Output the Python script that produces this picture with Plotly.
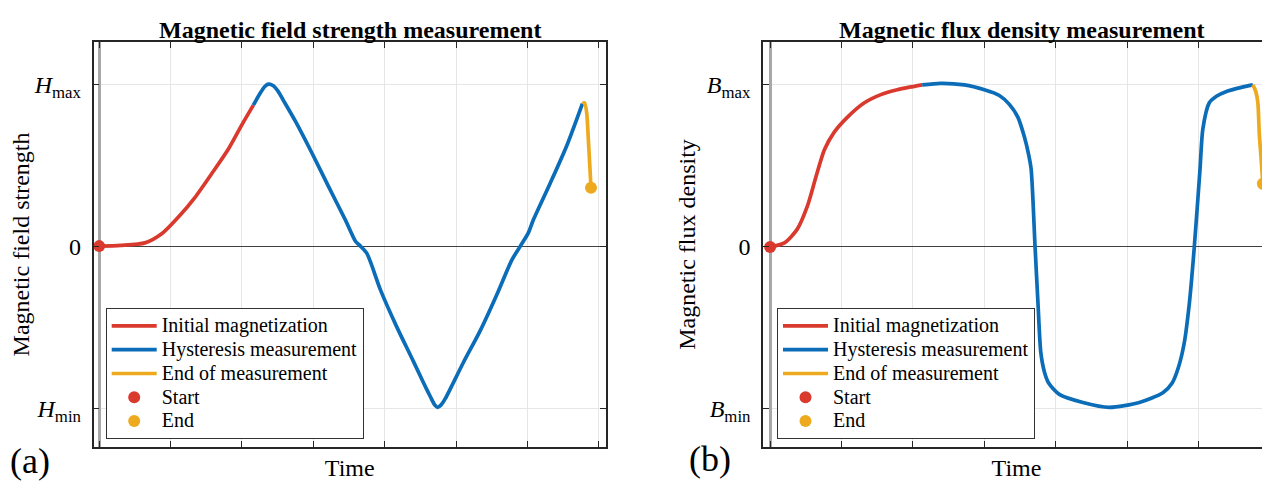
import plotly.graph_objects as go

# ---------------- data ----------------
time_ticks = [0, 1, 2, 3, 4, 5, 6, 7]

# Panel (a): magnetic field strength H (normalised: Hmin=-1, Hmax=1)
h_init_t = [0, 0.3, 0.64, 0.88, 1.11, 1.34, 1.58, 1.81, 2.0, 2.16]
h_init = [0, 0.005, 0.02, 0.078, 0.18, 0.30, 0.45, 0.60, 0.75, 0.87]

h_hyst_t = [2.16, 2.25, 2.32, 2.37, 2.44, 2.50, 2.58, 2.75, 2.98, 3.21, 3.45, 3.59,
            3.66, 3.75, 3.94, 4.17, 4.40, 4.55, 4.64, 4.70, 4.74, 4.79, 4.85, 5.10,
            5.34, 5.57, 5.78, 5.90, 6.01, 6.08, 6.32, 6.55, 6.77]
h_hyst = [0.87, 0.94, 0.985, 1.0, 0.99, 0.96, 0.90, 0.77, 0.575, 0.37, 0.16, 0.03,
          0.0, -0.045, -0.27, -0.50, -0.71, -0.85, -0.93, -0.98, -0.995, -0.98, -0.94, -0.72,
          -0.52, -0.30, -0.086, 0.0, 0.08, 0.16, 0.39, 0.62, 0.88]

h_end_t = [6.77, 6.80, 6.83, 6.85, 6.87, 6.89]
h_end = [0.88, 0.885, 0.82, 0.68, 0.52, 0.36]

# Panel (b): magnetic flux density B (normalised: Bmin=-1, Bmax=1)
b_init_t = [0, 0.2, 0.38, 0.52, 0.64, 0.76, 0.90, 1.08, 1.32, 1.55, 1.78, 2.13]
b_init = [0, 0.025, 0.11, 0.25, 0.43, 0.60, 0.71, 0.80, 0.89, 0.94, 0.97, 1.0]

b_hyst_t = [2.13, 2.39, 2.72, 3.0, 3.21, 3.35, 3.47, 3.56, 3.62, 3.655, 3.71, 3.75,
            3.79, 3.84, 3.90, 4.05, 4.38, 4.75, 5.17, 5.50, 5.63, 5.72, 5.80, 5.87,
            5.94, 6.02, 6.06, 6.15, 6.25, 6.39, 6.60, 6.76]
b_hyst = [1.0, 1.01, 1.0, 0.97, 0.935, 0.88, 0.80, 0.68, 0.57, 0.48, 0.0, -0.34,
          -0.65, -0.77, -0.84, -0.91, -0.96, -0.99, -0.96, -0.90, -0.84, -0.74, -0.59, -0.35,
          0.0, 0.48, 0.73, 0.89, 0.93, 0.96, 0.985, 1.0]

b_end_t = [6.76, 6.80, 6.83, 6.85, 6.875, 6.90]
b_end = [1.0, 0.96, 0.89, 0.70, 0.55, 0.39]

series_names = ["Initial magnetization", "Hysteresis measurement", "End of measurement"]
marker_names = ["Start", "End"]
y_tick_vals = [-1, 0, 1]
h_tick_text = ["<i>H</i><sub>min</sub>", "0", "<i>H</i><sub>max</sub>"]
b_tick_text = ["<i>B</i><sub>min</sub>", "0", "<i>B</i><sub>max</sub>"]

# ---------------- styling ----------------
RED = "#DA3A2E"
BLUE = "#0B6DB8"
YELLOW = "#EDAA1F"
FONT = "Liberation Serif"
AX = "#262626"

# the page body has an 8px margin, so the figure is 8px smaller than the window
W, H = 1262, 473


def fx(px):
    return (px - 8) / W


def fy(py):
    return 1 - (py - 8) / H


fig = go.Figure()


def legend_label(txt):
    return '<span style="font-size:20px">' + txt + "</span>"


def add_panel(xa, ya, leg, init_t, init, hyst_t, hyst, end_t, end):
    segs = [(init_t, init, RED), (hyst_t, hyst, BLUE), (end_t, end, YELLOW)]
    for (tt, vv, col), name in zip(segs, series_names):
        fig.add_trace(go.Scatter(
            x=tt, y=vv, mode="lines", name=legend_label(name), legend=leg,
            line=dict(color=col, width=3.7, shape="spline", smoothing=0.7),
            xaxis=xa, yaxis=ya))
    fig.add_trace(go.Scatter(
        x=[init_t[0]], y=[init[0]], mode="markers", name=legend_label(marker_names[0]),
        legend=leg, marker=dict(color=RED, size=12), xaxis=xa, yaxis=ya))
    fig.add_trace(go.Scatter(
        x=[end_t[-1]], y=[end[-1]], mode="markers", name=legend_label(marker_names[1]),
        legend=leg, marker=dict(color=YELLOW, size=12), xaxis=xa, yaxis=ya))


add_panel("x", "y", "legend", h_init_t, h_init, h_hyst_t, h_hyst, h_end_t, h_end)
add_panel("x2", "y2", "legend2", b_init_t, b_init, b_hyst_t, b_hyst, b_end_t, b_end)

common_x = dict(
    tickvals=time_ticks, showticklabels=False, ticks="inside", ticklen=6,
    tickcolor=AX, tickwidth=1.2, showgrid=True, gridcolor="#e6e6e6", gridwidth=1,
    zeroline=True, zerolinecolor="#a8a8a8", zerolinewidth=2.5,
    showline=True, linecolor=AX, linewidth=1.5,
    title=dict(text="Time", font=dict(family=FONT, size=24, color="black"), standoff=11),
)
common_y = dict(
    tickvals=y_tick_vals, ticks="inside", ticklen=6, tickcolor=AX, tickwidth=1.2,
    showgrid=True, gridcolor="#e6e6e6", gridwidth=1,
    zeroline=True, zerolinecolor="#404040", zerolinewidth=1,
    showline=True, linecolor=AX, linewidth=1.5,
    tickfont=dict(family=FONT, size=24, color="black"), ticklabelstandoff=6,
)

legend_common = dict(
    bgcolor="white", bordercolor="#333333", borderwidth=1,
    font=dict(family=FONT, size=16, color="black"),
    xanchor="left", yanchor="top", itemwidth=45, tracegroupgap=0,
)

fig.update_layout(
    width=W, height=H,
    margin=dict(l=0, r=0, t=0, b=0),
    paper_bgcolor="white", plot_bgcolor="white",
    font=dict(family=FONT, color="black"),
    xaxis=dict(common_x, domain=[fx(93.5), fx(606)], range=[-0.08, 7.1], anchor="y",
               mirror="ticks"),
    yaxis=dict(common_y, domain=[fy(447), fy(42)], range=[-1.24, 1.26], anchor="x",
               mirror="ticks", ticktext=h_tick_text,
               title=dict(text="Magnetic field strength",
                          font=dict(family=FONT, size=24, color="black"), standoff=4)),
    xaxis2=dict(common_x, domain=[fx(763), 1.0], range=[-0.1, 7.0], anchor="y2",
                mirror="ticks"),
    yaxis2=dict(common_y, domain=[fy(447), fy(42)], range=[-1.235, 1.265], anchor="x2",
                mirror=False, ticktext=b_tick_text,
                title=dict(text="Magnetic flux density",
                           font=dict(family=FONT, size=24, color="black"), standoff=4)),
    legend=dict(legend_common, x=fx(105.7), y=fy(308)),
    legend2=dict(legend_common, x=fx(777), y=fy(308)),
    annotations=[
        dict(text="<b>Magnetic field strength measurement</b>", x=fx(350), y=fy(30),
             xref="paper", yref="paper", showarrow=False, xanchor="center", yanchor="middle",
             font=dict(family=FONT, size=24, color="black")),
        dict(text="<b>Magnetic flux density measurement</b>", x=fx(1022), y=fy(30),
             xref="paper", yref="paper", showarrow=False, xanchor="center", yanchor="middle",
             font=dict(family=FONT, size=24, color="black")),
        dict(text="(a)", x=fx(30), y=fy(461), xref="paper", yref="paper", showarrow=False,
             xanchor="center", yanchor="middle", font=dict(family=FONT, size=36, color="black")),
        dict(text="(b)", x=fx(710), y=fy(459), xref="paper", yref="paper", showarrow=False,
             xanchor="center", yanchor="middle", font=dict(family=FONT, size=36, color="black")),
    ],
)

fig.write_html("out.html")
